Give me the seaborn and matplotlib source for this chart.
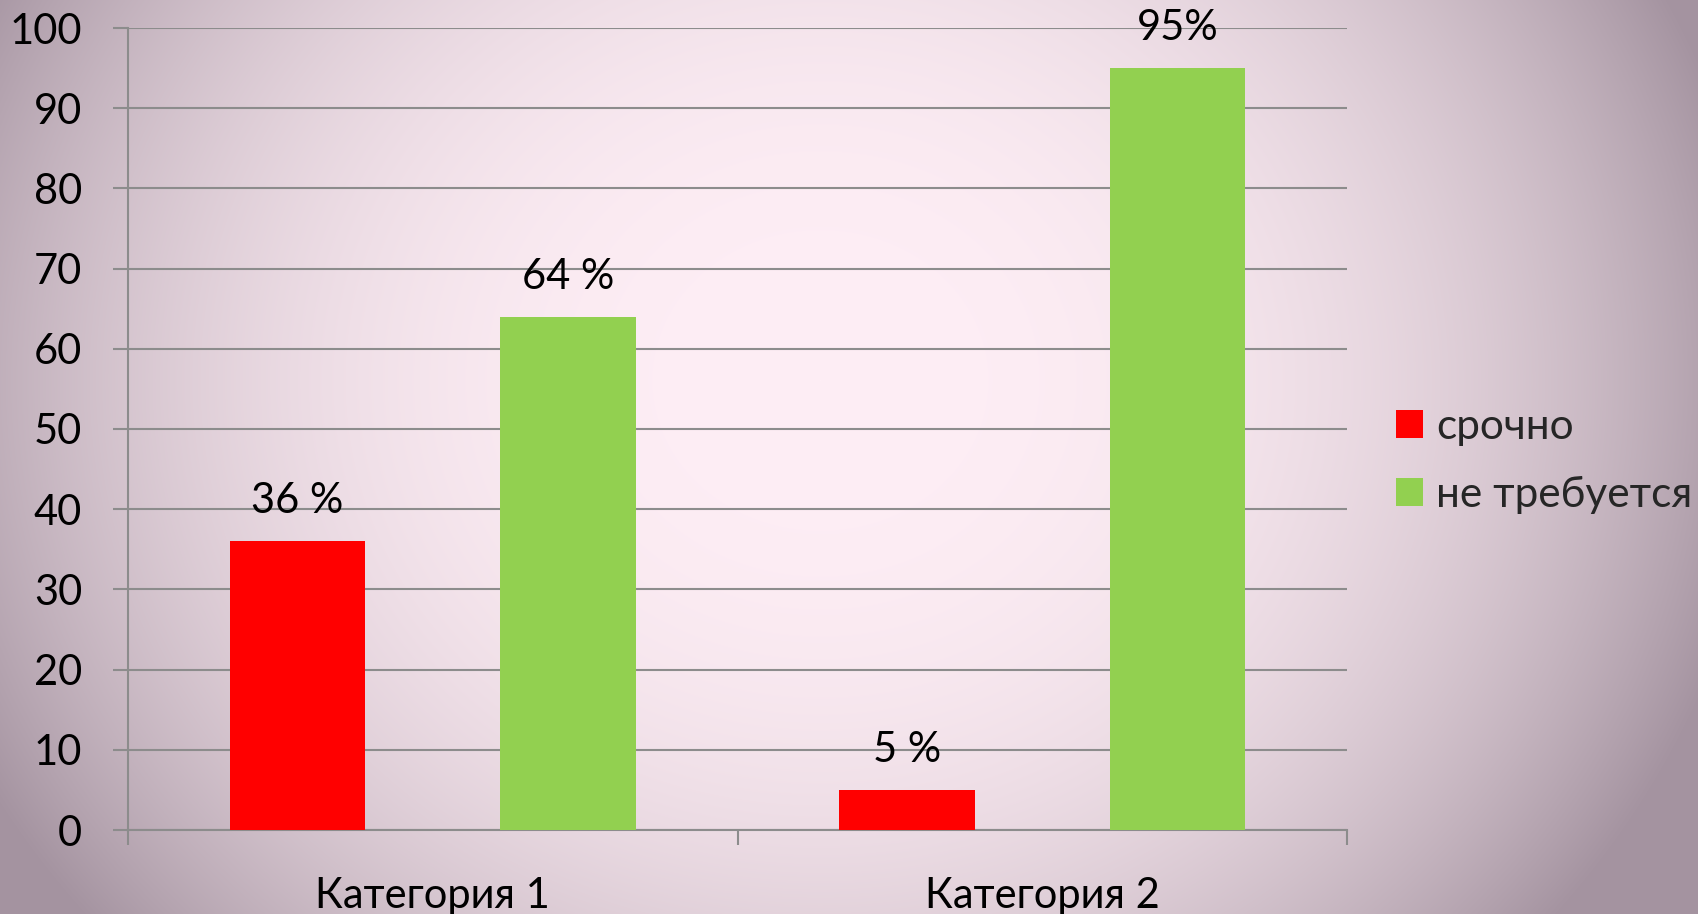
import numpy as np
import pandas as pd
import matplotlib
matplotlib.use("Agg")
import matplotlib.pyplot as plt
import seaborn as sns
from matplotlib.patches import Patch

categories = ["Категория 1", "Категория 2"]
series_names = ["срочно", "не требуется"]
urgent_values = [36, 5]
not_required_values = [64, 95]
urgent_labels = ["36 %", "5 %"]
not_required_labels = ["64 %", "95%"]
y_ticks = [0, 10, 20, 30, 40, 50, 60, 70, 80, 90, 100]
colors = ["#FF0000", "#92D050"]

sns.set_theme(style="white")
plt.rcParams['font.family'] = ['Lato', 'DejaVu Sans']

W, H = 1698, 914
fig = plt.figure(figsize=(W / 100, H / 100), dpi=100)

# background radial gradient
bg = fig.add_axes([0, 0, 1, 1], zorder=-10)
yy, xx = np.mgrid[0:H, 0:W]
cx, cy, rx, ry = 820, 380, 950, 850
d = np.sqrt(((xx - cx) / rx) ** 2 + ((yy - cy) / ry) ** 2)
t = np.clip(d ** 2.6, 0, 1.0)
c0 = np.array([254, 238, 245]) / 255
c1 = np.array([164, 147, 160]) / 255
img = c0[None, None, :] + (c1 - c0)[None, None, :] * t[..., None]
img = np.clip(img, 0, 1)
bg.imshow(img, aspect="auto", interpolation="bilinear")
bg.axis("off")

ax = fig.add_axes([128 / W, 84 / H, (1347 - 128) / W, (830 - 28) / H])
ax.patch.set_alpha(0)

df = pd.DataFrame({
    "cat": categories * 2,
    "series": [series_names[0]] * 2 + [series_names[1]] * 2,
    "value": urgent_values + not_required_values,
})
sns.barplot(data=df, x="cat", y="value", hue="series", hue_order=series_names,
            palette=colors, width=0.888, gap=0.5, saturation=1, errorbar=None,
            legend=False, ax=ax, zorder=3, edgecolor="none", linewidth=0)

gray = "#8c8c8c"
ax.set_xlim(-0.5, 1.5)
ax.set_ylim(0, 100)
ax.set_yticks(y_ticks)
ax.yaxis.grid(True, color=gray, lw=1.5, zorder=0)
ax.set_axisbelow(True)
for s in ["top", "right"]:
    ax.spines[s].set_visible(False)
for s in ["left", "bottom"]:
    ax.spines[s].set_color(gray)
    ax.spines[s].set_linewidth(1.5)

ax.set_xticks([-0.5, 0.5, 1.5])
ax.set_xticklabels([])
ax.set_xticks([0, 1], minor=True)
ax.set_xticklabels(categories, minor=True)
ax.tick_params(axis="x", which="major", bottom=True, length=11, width=1.5, color=gray, direction="out")
ax.tick_params(axis="x", which="minor", bottom=True, length=0, pad=34, labelsize=30, labelcolor="black")
ax.tick_params(axis="y", left=True, length=11, width=1.5, color=gray, direction="out", pad=22,
               labelsize=30, labelcolor="black")
ax.set_xlabel("")
ax.set_ylabel("")

ax.bar_label(ax.containers[0], labels=urgent_labels, padding=15, fontsize=30, color="black")
ax.bar_label(ax.containers[1], labels=not_required_labels, padding=15, fontsize=30, color="black")

handles = [Patch(facecolor=c, edgecolor="none") for c in colors]
fig.legend(handles, series_names, loc="center left", bbox_to_anchor=(1396 / W, 1 - 461 / H),
           frameon=False, fontsize=30.5, handlelength=0.64, handleheight=0.64,
           handletextpad=0.3, labelspacing=0.72, borderpad=0, borderaxespad=0)

fig.savefig("out.png", dpi=100)
